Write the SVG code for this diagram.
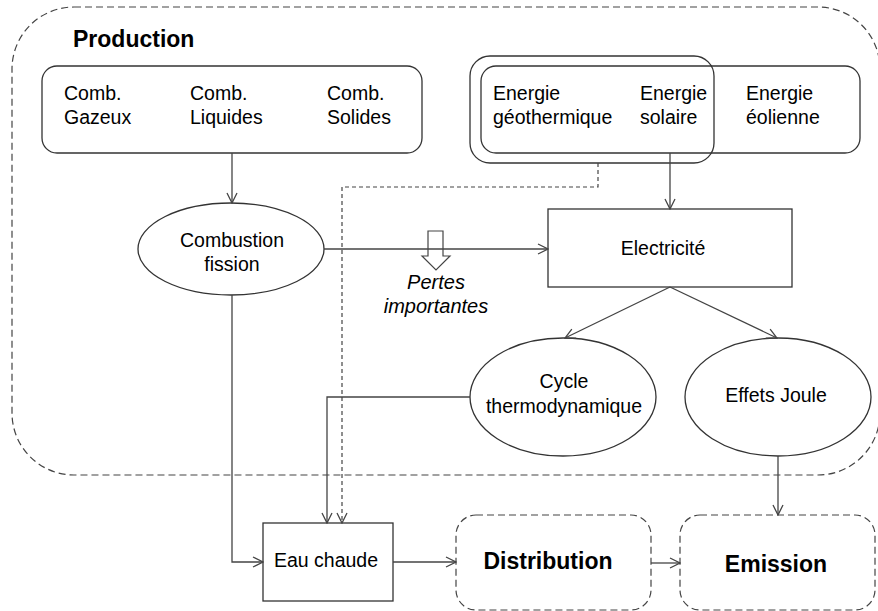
<svg xmlns="http://www.w3.org/2000/svg" width="878" height="611" viewBox="0 0 878 611">
<style>
text{font-family:"Liberation Sans",Arial,sans-serif;fill:#000;}
.t{font-size:19.5px;}
.b{font-size:23px;font-weight:bold;}
.i{font-size:20px;font-style:italic;}
.m{text-anchor:middle;}
.box{fill:#fff;stroke:#333;stroke-width:1.3;}
.dbox{fill:none;stroke:#444;stroke-width:1.2;stroke-dasharray:7,4;}
.ln{fill:none;stroke:#444;stroke-width:1.3;}
.dl{fill:none;stroke:#444;stroke-width:1.2;stroke-dasharray:4,3;}
</style>
<defs>
<marker id="ah" viewBox="0 0 12 12" refX="11" refY="6" markerWidth="12" markerHeight="12" markerUnits="userSpaceOnUse" orient="auto">
<path d="M1,1 L11,6 L1,11" fill="none" stroke="#444" stroke-width="1.3"/>
</marker>
</defs>
<rect fill="#fff" width="878" height="611"/>
<g id="production">
<rect class="dbox" x="12" y="7" width="868" height="468" rx="62" ry="62"/>
<text class="b" x="73" y="47">Production</text>
</g>
<g id="combustibles">
<rect class="box" x="42" y="66" width="380" height="87" rx="15"/>
<text class="t" x="64" y="100">Comb.</text><text class="t" x="64" y="124">Gazeux</text>
<text class="t" x="190" y="100">Comb.</text><text class="t" x="190" y="124">Liquides</text>
<text class="t" x="327" y="100">Comb.</text><text class="t" x="327" y="124">Solides</text>
</g>
<g id="energies">
<rect class="box" x="481" y="66" width="379" height="87" rx="15"/>
<rect x="470" y="56" width="244" height="107" rx="20" fill="none" stroke="#333" stroke-width="1.3"/>
<text class="t" x="493" y="100">Energie</text><text class="t" x="493" y="124">géothermique</text>
<text class="t" x="640" y="100">Energie</text><text class="t" x="640" y="124">solaire</text>
<text class="t" x="746" y="100">Energie</text><text class="t" x="746" y="124">éolienne</text>
</g>
<g id="combustion">
<ellipse class="box" cx="231" cy="249" rx="93" ry="46"/>
<text class="t m" x="232" y="247">Combustion</text>
<text class="t m" x="232" y="271">fission</text>
</g>
<g id="electricite">
<rect class="box" x="548" y="209" width="244" height="78"/>
<text class="t m" x="663" y="255">Electricité</text>
</g>
<g id="cycle">
<ellipse class="box" cx="563" cy="397" rx="93" ry="59"/>
<text class="t m" x="564" y="388">Cycle</text>
<text class="t m" x="564" y="413">thermodynamique</text>
</g>
<g id="joule">
<ellipse class="box" cx="778" cy="397" rx="93" ry="59"/>
<text class="t m" x="776" y="402">Effets Joule</text>
</g>
<g id="eau">
<rect class="box" x="263" y="523" width="130" height="78"/>
<text class="t m" x="326" y="567">Eau chaude</text>
</g>
<g id="distribution">
<rect class="dbox" x="456" y="515" width="195" height="95" rx="20"/>
<text class="b m" x="548" y="569">Distribution</text>
</g>
<g id="emission">
<rect class="dbox" x="680" y="515" width="195" height="95" rx="20"/>
<text class="b m" x="776" y="572">Emission</text>
</g>
<g id="pertes">
<polygon points="428,231 443,231 443,256 450,256 436,270 422,256 428,256" fill="#fff" stroke="#444" stroke-width="1.2"/>
<text class="i m" x="436" y="289">Pertes</text>
<text class="i m" x="436" y="313">importantes</text>
</g>
<g id="connectors">
<path class="ln" d="M232,153 V203" marker-end="url(#ah)"/>
<path class="ln" d="M670,153 V209" marker-end="url(#ah)"/>
<path class="ln" d="M324,249 H548" marker-end="url(#ah)"/>
<path class="ln" d="M670,287 L565,338" marker-end="url(#ah)"/>
<path class="ln" d="M670,287 L777,338" marker-end="url(#ah)"/>
<path class="dl" d="M598,163 V187 H342 V523" marker-end="url(#ah)"/>
<path class="ln" d="M470,397 H327 V523" marker-end="url(#ah)"/>
<path class="ln" d="M232,295 V562 H263" marker-end="url(#ah)"/>
<path class="ln" d="M393,562 H456" marker-end="url(#ah)"/>
<path class="ln" d="M651,563 H680" marker-end="url(#ah)"/>
<path class="ln" d="M778,456 V515" marker-end="url(#ah)"/>
</g>
</svg>
